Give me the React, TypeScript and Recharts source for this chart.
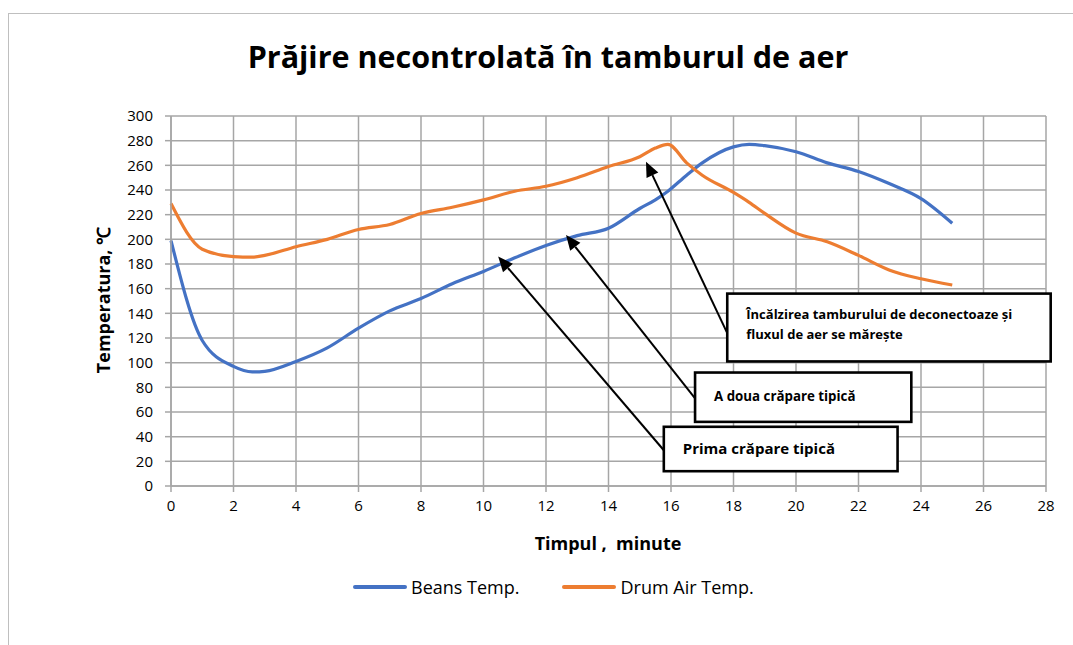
import { LineChart, Line, XAxis, YAxis, CartesianGrid, ReferenceArea, ReferenceLine } from "recharts";

// timpul (minute) si temperaturile
const minutes = [0, 1, 2, 2.6, 3, 4, 5, 6, 7, 8, 9, 10, 11, 12, 13, 14, 15, 15.5, 15.9, 16.5, 17, 18, 18.5, 19, 20, 21, 22, 23, 24, 25];
const beansTemp = [199, 118, 97, 92.5, 93, 101, 112, 128, 142, 152, 164, 174, 185, 195, 203, 209, 225, 232, 239, 252, 262, 275, 277, 276, 271, 262, 255, 245, 233, 213];
const drumAirTemp = [229, 192, 186, 185.5, 187, 194, 200, 208, 212, 221, 226, 232, 239, 243, 250, 259, 267, 274, 277, 262, 252, 238, 230, 221, 205, 198, 187, 175, 168, 163];

const xTicks = [0, 2, 4, 6, 8, 10, 12, 14, 16, 18, 20, 22, 24, 26, 28];
const yTicks = [0, 20, 40, 60, 80, 100, 120, 140, 160, 180, 200, 220, 240, 260, 280, 300];

const seriesNames = ["Beans Temp.", "Drum Air Temp."];
const seriesColors = ["#4472C4", "#ED7D31"];

// casetele de adnotare, in coordonatele graficului
const noteBoxes = [
  { x1: 17.8, x2: 28.15, y1: 101, y2: 156, lines: ["Încălzirea tamburului de deconectoaze și", "fluxul de aer se mărește"], size: 13 },
  { x1: 16.77, x2: 23.69, y1: 52, y2: 92, lines: ["A doua crăpare tipică"], size: 13.3 },
  { x1: 15.77, x2: 23.25, y1: 12, y2: 48, lines: ["Prima crăpare tipică"], size: 15 },
];

const noteArrows = [
  { from: { x: 15.77, y: 29 }, to: { x: 10.47, y: 186 } },
  { from: { x: 16.77, y: 71 }, to: { x: 12.64, y: 203.5 } },
  { from: { x: 17.8, y: 124 }, to: { x: 15.2, y: 263 } },
];

const data = minutes.map((m, i) => ({ minute: m, beans: beansTemp[i], drum: drumAirTemp[i] }));

const font = "'Open Sans', sans-serif";

const ArrowShape = (props: any) => {
  const { x1, y1, x2, y2 } = props;
  const ang = Math.atan2(y2 - y1, x2 - x1);
  const len = 15;
  const half = 6.5;
  const bx = x2 - len * Math.cos(ang);
  const by = y2 - len * Math.sin(ang);
  const px = -Math.sin(ang) * half;
  const py = Math.cos(ang) * half;
  return (
    <g>
      <line x1={x1} y1={y1} x2={bx} y2={by} stroke="#000" strokeWidth={2} />
      <polygon points={`${x2},${y2} ${bx + px},${by + py} ${bx - px},${by - py}`} fill="#000" />
    </g>
  );
};

const boxShape = (lines: string[], size: number) => (props: any) => {
  const { x, y, width, height } = props;
  const lineH = 20;
  const first = lines.length > 1 ? y + 20 : y + height / 2 - 1;
  return (
    <g>
      <rect x={x} y={y} width={width} height={height} fill="#fff" stroke="#000" strokeWidth={2.6} />
      {lines.map((t, i) => (
        <text key={i} x={x + 19} y={first + i * lineH} dominantBaseline="central" fontFamily={font} fontWeight={700} fontSize={size} fill="#000">
          {t}
        </text>
      ))}
    </g>
  );
};

export default function App() {
  return (
    <div style={{ position: "absolute", left: 0, top: 0, width: 1073, height: 645, background: "#fff", overflow: "hidden", fontFamily: font }}>
      <div style={{ position: "absolute", left: 8, top: 13, width: 1080, height: 660, border: "1px solid #bfbfbf" }} />
      <div style={{ position: "absolute", left: 0, width: 1096, top: 35, textAlign: "center", fontSize: 30.5, fontWeight: 700, color: "#000" }}>
        Prăjire necontrolată în tamburul de aer
      </div>
      <div style={{ position: "absolute", left: 103, top: 300, transform: "translate(-50%, -50%) rotate(-90deg)", whiteSpace: "nowrap", fontSize: 18, fontWeight: 700, color: "#000" }}>
        Temperatura, ℃
      </div>
      <div style={{ position: "absolute", left: 608, top: 543, transform: "translate(-50%, -50%)", whiteSpace: "pre", fontSize: 18, fontWeight: 700, color: "#000" }}>
        {"Timpul ,  minute"}
      </div>
      <div style={{ position: "absolute", left: 353, top: 575, display: "flex", alignItems: "center", fontSize: 18, color: "#000" }}>
        {seriesNames.map((n, i) => (
          <div key={n} style={{ display: "flex", alignItems: "center", marginRight: 43 }}>
            <div style={{ width: 54, height: 4, borderRadius: 2, background: seriesColors[i], marginRight: 4 }} />
            <span>{n}</span>
          </div>
        ))}
      </div>
      <div style={{ position: "absolute", left: 0, top: 0 }}>
        <LineChart width={1073} height={645} data={data} margin={{ top: 116, right: 27, bottom: 129, left: 111 }}>
          <CartesianGrid stroke="#a6a6a6" strokeWidth={1.5} />
          <XAxis
            dataKey="minute"
            type="number"
            domain={[0, 28]}
            ticks={xTicks}
            height={30}
            stroke="#a6a6a6"
            strokeWidth={1.5}
            tickSize={6}
            tickMargin={8}
            tick={{ fill: "#000", fontSize: 15, fontFamily: font }}
            interval={0}
          />
          <YAxis
            type="number"
            domain={[0, 300]}
            ticks={yTicks}
            width={60}
            stroke="#a6a6a6"
            strokeWidth={1.5}
            tickSize={6}
            tickMargin={12}
            tick={{ fill: "#000", fontSize: 15, fontFamily: font }}
            interval={0}
          />
          <Line type="monotone" dataKey="beans" name={seriesNames[0]} stroke={seriesColors[0]} strokeWidth={3.2} dot={false} isAnimationActive={false} />
          <Line type="monotone" dataKey="drum" name={seriesNames[1]} stroke={seriesColors[1]} strokeWidth={3.2} dot={false} isAnimationActive={false} />
          {noteArrows.map((a, i) => (
            <ReferenceLine key={`a${i}`} segment={[a.from, a.to]} ifOverflow="visible" shape={ArrowShape} />
          ))}
          {noteBoxes.map((b, i) => (
            <ReferenceArea key={`b${i}`} x1={b.x1} x2={b.x2} y1={b.y1} y2={b.y2} ifOverflow="visible" shape={boxShape(b.lines, b.size)} />
          ))}
        </LineChart>
      </div>
    </div>
  );
}
